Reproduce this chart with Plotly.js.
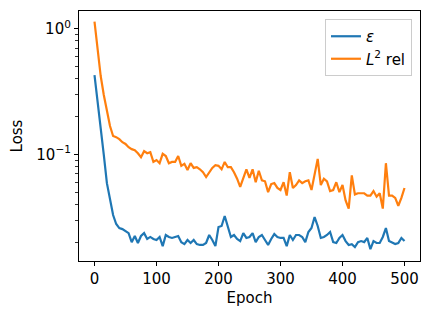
<!DOCTYPE html>
<html>
<head>
<meta charset="utf-8">
<script src="https://cdn.plot.ly/plotly-3.0.1.min.js"></script>
<style>html,body{margin:0;padding:0;background:#fff;}#chart{width:432px;height:319px;}</style>
</head>
<body>
<div id="chart"></div>
<script>
// Epochs (every 5)
const epochs = [];
for (let e = 0; e <= 500; e += 5) epochs.push(e);

const epsLoss = [
  0.428, 0.252, 0.148, 0.099, 0.059, 0.0425, 0.0329, 0.0279, 0.0259, 0.0254,
  0.0245, 0.0236, 0.0200, 0.0224, 0.0197, 0.0224, 0.0236, 0.0212, 0.0220, 0.0212,
  0.0208, 0.0220, 0.0186, 0.0228, 0.0220, 0.0216, 0.0220, 0.0224, 0.0200, 0.0193,
  0.0208, 0.0197, 0.0208, 0.0193, 0.0190, 0.0190, 0.0197, 0.0228, 0.0208, 0.0186,
  0.0264, 0.0269, 0.0323, 0.0269, 0.0220, 0.0228, 0.0212, 0.0204, 0.0236, 0.0216,
  0.0220, 0.0236, 0.0200, 0.0220, 0.0228, 0.0208, 0.0190, 0.0212, 0.0232, 0.0220,
  0.0216, 0.0216, 0.0186, 0.0228, 0.0208, 0.0228, 0.0228, 0.0220, 0.0200, 0.0241,
  0.0259, 0.0317, 0.0269, 0.0216, 0.0220, 0.0228, 0.0241, 0.0200, 0.0197, 0.0216,
  0.0228, 0.0204, 0.0190, 0.0193, 0.0183, 0.0200, 0.0204, 0.0200, 0.0216, 0.0176,
  0.0204, 0.0197, 0.0197, 0.0220, 0.0259, 0.0204, 0.0197, 0.0193, 0.0197, 0.0216,
  0.0204
];

const l2Rel = [
  1.137, 0.677, 0.420, 0.297, 0.225, 0.168, 0.140, 0.137, 0.132, 0.125,
  0.121, 0.114, 0.110, 0.108, 0.102, 0.095, 0.106, 0.102, 0.104, 0.087,
  0.090, 0.085, 0.101, 0.097, 0.085, 0.087, 0.087, 0.097, 0.081, 0.084,
  0.075, 0.085, 0.078, 0.079, 0.076, 0.072, 0.066, 0.071, 0.078, 0.082,
  0.081, 0.076, 0.087, 0.079, 0.079, 0.072, 0.064, 0.055, 0.065, 0.076,
  0.065, 0.076, 0.060, 0.074, 0.062, 0.061, 0.050, 0.058, 0.059, 0.054,
  0.052, 0.060, 0.047, 0.072, 0.054, 0.057, 0.062, 0.059, 0.061, 0.062,
  0.052, 0.071, 0.092, 0.057, 0.064, 0.061, 0.051, 0.052, 0.060, 0.050,
  0.057, 0.043, 0.037, 0.068, 0.048, 0.049, 0.049, 0.049, 0.047, 0.047,
  0.051, 0.046, 0.049, 0.037, 0.085, 0.047, 0.047, 0.045, 0.039, 0.045,
  0.054
];

const xTicks = [0, 100, 200, 300, 400, 500];
const yTicks = [0.1, 1];
const yTickText = ['10<sup>\u22121</sup>', '10<sup>0</sup>'];
const yMinor = [0.02,0.03,0.04,0.05,0.06,0.07,0.08,0.09,0.2,0.3,0.4,0.5,0.6,0.7,0.8,0.9];

const font = {family: 'DejaVu Sans', size: 15, color: '#000'};

const traces = [
  {x: epochs, y: epsLoss, mode: 'lines', name: '<i>\u03b5</i>',
   line: {color: '#1f77b4', width: 2.2}},
  {x: epochs, y: l2Rel, mode: 'lines', name: '<i>L</i><sup>2</sup> rel',
   line: {color: '#ff7f0e', width: 2.2}}
];

const layout = {
  width: 432, height: 319,
  margin: {l: 79, r: 12, t: 11, b: 58},
  paper_bgcolor: '#fff', plot_bgcolor: '#fff',
  font: font,
  showlegend: true,
  legend: {x: 0.9765, y: 0.968, xanchor: 'right', yanchor: 'top',
           bgcolor: 'rgba(255,255,255,0.8)', bordercolor: '#cccccc', borderwidth: 1,
           font: {family: 'DejaVu Sans', size: 15, color: '#000'}},
  xaxis: {
    range: [-25, 525], tickvals: xTicks, ticks: 'outside', ticklen: 4, tickwidth: 1.1,
    tickcolor: '#000', showline: true, linecolor: '#000', linewidth: 1.1, mirror: true,
    showgrid: false, zeroline: false,
    title: {text: 'Epoch', font: font, standoff: 5}
  },
  yaxis: {
    type: 'log', range: [-1.849, 0.141], tickvals: yTicks, ticktext: yTickText,
    ticks: 'outside', ticklen: 4, tickwidth: 1.1, tickcolor: '#000',
    showline: true, linecolor: '#000', linewidth: 1.1, mirror: true,
    showgrid: false, zeroline: false,
    minor: {tickvals: yMinor, ticks: 'outside', ticklen: 2.5, tickwidth: 0.8, tickcolor: '#000', showgrid: false},
    title: {text: 'Loss', font: font, standoff: 10}
  }
};

Plotly.newPlot('chart', traces, layout, {displayModeBar: false, staticPlot: true});
</script>
</body>
</html>
